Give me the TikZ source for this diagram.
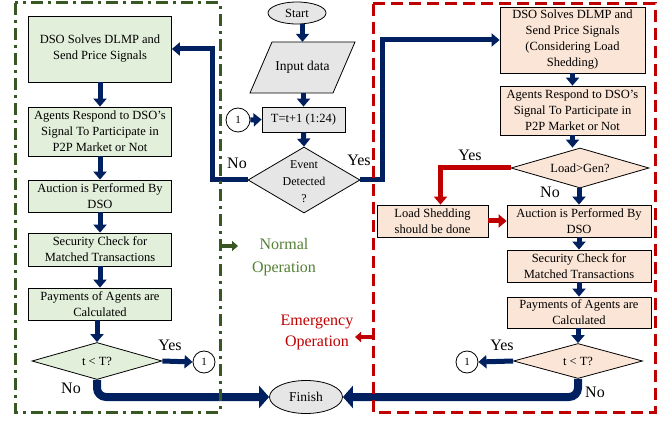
\documentclass[tikz,border=0pt]{standalone}
\usepackage{fontspec}
\setmainfont{Liberation Serif}
\usetikzlibrary{arrows.meta,shapes.geometric,calc}
\definecolor{gfill}{RGB}{226,239,218}
\definecolor{pfill}{RGB}{251,229,214}
\definecolor{cfill}{RGB}{231,230,230}
\definecolor{dnavy}{RGB}{0,32,96}
\definecolor{dgreen}{RGB}{56,87,35}
\definecolor{tgreen}{RGB}{84,130,53}
\definecolor{dred}{RGB}{192,0,0}
\tikzset{
 txt/.style={font=\fontsize{12.5}{16}\selectfont, align=center, inner sep=0pt},
 box/.style={txt, draw=black, line width=0.8pt, inner sep=1pt},
 gbox/.style={box, fill=gfill, minimum width=143pt},
 pbox/.style={box, fill=pfill, minimum width=144pt},
 cbox/.style={box, fill=cfill},
 dia/.style={diamond, draw=black, line width=0.8pt, inner sep=0pt, aspect=3},
 oval/.style={ellipse, draw=black, line width=0.8pt, fill=cfill, inner sep=0pt, font=\fontsize{12.5}{16}\selectfont},
 circ/.style={circle, draw=black, line width=0.8pt, fill=white, minimum size=23pt, inner sep=0pt, font=\fontsize{11}{13}\selectfont},
 lbl/.style={font=\fontsize{16}{18}\selectfont, inner sep=0pt},
 flow/.style={draw=dnavy, line width=5pt, -{Triangle[length=8pt,width=13pt]}},
 bigflow/.style={draw=dnavy, line width=8pt, rounded corners=9pt, -{Triangle[length=10pt,width=22pt]}},
 rflow/.style={draw=dred, line width=5pt, -{Triangle[length=8pt,width=13pt]}},
 gframe/.style={draw=dgreen, line width=3pt, dash pattern=on 12pt off 5pt on 3pt off 5pt},
 rframe/.style={draw=dred, line width=3pt, dash pattern=on 12pt off 6pt},
}
\begin{document}
\begin{tikzpicture}[x=1pt,y=-1pt]
\useasboundingbox (0,0) rectangle (672,422);
\fill[white] (0,0) rectangle (672,422);

% ---------- left column (normal operation)
\node[gbox, minimum height=66pt] (l1) at (100,49) {DSO Solves DLMP and\\Send Price Signals};
\node[gbox, minimum height=49pt] (l2) at (100,131.5) {Agents Respond to DSO’s\\Signal To Participate in\\P2P Market or Not};
\node[gbox, minimum height=32pt] (l3) at (100,196) {Auction is Performed By\\DSO};
\node[gbox, minimum height=33pt] (l4) at (100,249.5) {Security Check for\\Matched Transactions};
\node[gbox, minimum height=32pt] (l5) at (100,304) {Payments of Agents are\\Calculated};
\node[dia, fill=gfill, minimum width=130pt, minimum height=37pt] (d1) at (97,361) {};
\node[txt] (d1t) at (d1) {t < T?};
\node[circ, minimum size=22pt] (c2) at (204,362) {1};

% ---------- centre column
\node[oval, minimum width=58pt, minimum height=22pt] (start) at (297,13) {Start};
\fill[cfill, draw=black, line width=0.8pt] (250,93) -- (272,42) -- (355,42) -- (333,93) -- cycle;
\node[txt, minimum width=83pt, minimum height=51pt] (input) at (302.5,67.5) {\fontsize{13.5}{16}\selectfont Input data};
\node[cbox, minimum width=83pt, minimum height=25pt] (tbox) at (303.5,119.5) {T=t+1 (1:24)};
\node[circ, minimum size=24pt] (c1) at (238,120) {1};
\node[dia, fill=cfill, minimum width=112pt, minimum height=66pt] (evt) at (304,180) {};
\node[txt, font=\fontsize{12}{17}\selectfont] (evtt) at (304,182) {Event\\Detected\\?};
\node[oval, minimum width=73pt, minimum height=33pt, font=\fontsize{13.5}{16}\selectfont] (finish) at (306,397) {Finish};

% ---------- right column (emergency operation)
\node[pbox, minimum width=145pt, minimum height=66pt] (r1) at (572.5,40) {DSO Solves DLMP and\\Send Price Signals\\(Considering Load\\Shedding)};
\node[pbox, minimum width=145pt, minimum height=49pt] (r2) at (572.5,110.5) {Agents Respond to DSO’s\\Signal To Participate in\\P2P Market or Not};
\node[dia, fill=pfill, minimum width=138pt, minimum height=40pt] (d2) at (580,168) {};
\node[txt] (d2t) at (d2) {Load>Gen?};
\node[box, fill=pfill, minimum width=111pt, minimum height=32pt] (ls) at (432.5,221) {Load Shedding\\should be done};
\node[pbox, minimum height=32pt] (r3) at (579,221) {Auction is Performed By\\DSO};
\node[pbox, minimum height=32pt] (r4) at (579,266) {Security Check for\\Matched Transactions};
\node[pbox, minimum height=31pt] (r5) at (579,312.5) {Payments of Agents are\\Calculated};
\node[dia, fill=pfill, minimum width=129pt, minimum height=35pt] (d3) at (578,361) {};
\node[txt] (d3t) at (d3) {t < T?};
\node[circ, minimum size=22pt] (c3) at (467,362) {1};

% ---------- connectors
\draw[flow] (l1) -- (l2);
\draw[flow] (l2) -- (l3);
\draw[flow] (l3) -- (l4);
\draw[flow] (l4) -- (l5);
\draw[flow] (l5.south -| d1.north) -- (d1.north);
\draw[flow] (d1.east) -- (c2.west);
\draw[bigflow] (d1.south) |- (finish.west);

\draw[flow] (start.south -| input.north) -- (input.north);
\draw[flow] (input.south -| tbox.north) -- (tbox.north);
\draw[flow] (c1.east) -- (tbox.west);
\draw[flow] (tbox.south) -- (evt.north);
\draw[flow] (evt.west) -- ++(-35,0) |- (l1.east);
\draw[flow] (evt.east) -- ++(22,0) |- (r1.west);

\draw[flow] (r1) -- (r2);
\draw[flow] (r2.south) -- (r2.south |- d2.north);
\draw[rflow] (d2.west) -| ([xshift=8pt]ls.north);
\draw[rflow] (ls.east) -- (r3.west);
\draw[flow] (d2.south -| r3.north) -- (r3.north);
\draw[flow] (r3) -- (r4);
\draw[flow] (r4) -- (r5);
\draw[flow] (r5.south -| d3.north) -- (d3.north);
\draw[flow] (d3.west) -- (c3.east);
\draw[bigflow] (d3.south) |- (finish.east);

% ---------- labels
\node[lbl] (no1) at (237,163) {No};
\node[lbl] (yes1) at (359,160) {Yes};
\node[lbl] (yes2) at (170,345) {Yes};
\node[lbl] (no2) at (71,388) {No};
\node[lbl] (yes3) at (470,155) {Yes};
\node[lbl] (no3) at (550,192) {No};
\node[lbl] (yes4) at (502,345) {Yes};
\node[lbl] (no4) at (595,392) {No};

% ---------- frames
\draw[gframe] (15,3) rectangle (220,412);
\draw[rframe] (373,4) rectangle (655,412);

\coordinate (na) at (220,246);
\coordinate (nb) at (238,246);
\draw[draw=dgreen, line width=3.5pt, -{Triangle[length=6pt,width=10pt]}] (na) -- (nb);
\node[lbl, text=tgreen, align=center, font=\fontsize{16}{23}\selectfont] (norm) at (284,257) {Normal\\Operation};

\coordinate (ea) at (373,337);
\coordinate (eb) at (355,337);
\draw[draw=dred, line width=3.5pt, -{Triangle[length=6pt,width=10pt]}] (ea) -- (eb);
\node[lbl, text=dred, align=center, font=\fontsize{16}{21}\selectfont] (emer) at (317,332) {Emergency\\Operation};
\end{tikzpicture}
\end{document}
